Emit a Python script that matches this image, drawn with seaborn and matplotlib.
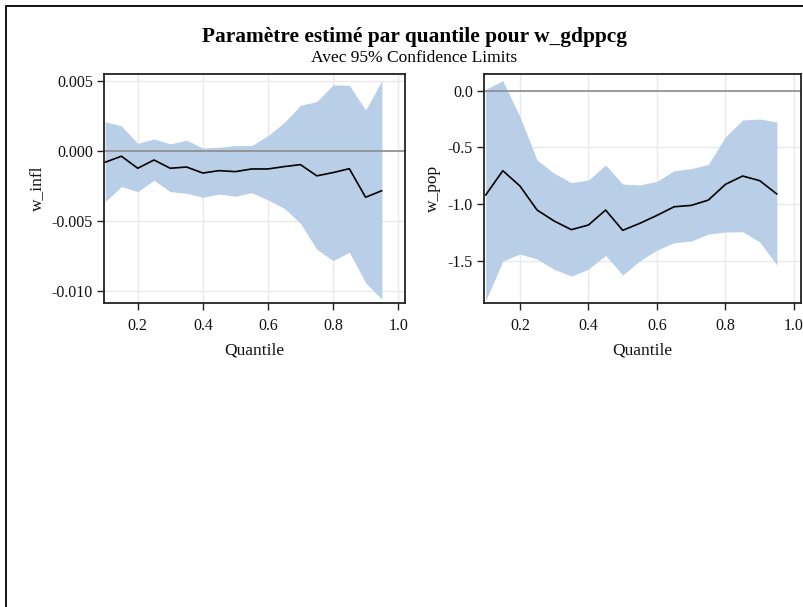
import numpy as np
import pandas as pd
import matplotlib
matplotlib.use("Agg")
import matplotlib.pyplot as plt
import matplotlib.patches as mpatches
from matplotlib.ticker import FormatStrFormatter
import seaborn as sns

quantiles = [0.10, 0.15, 0.20, 0.25, 0.30, 0.35, 0.40, 0.45, 0.50,
             0.55, 0.60, 0.65, 0.70, 0.75, 0.80, 0.85, 0.90, 0.95]

infl_est = [-0.00083, -0.00040, -0.00126, -0.00067, -0.00126, -0.00117, -0.00160, -0.00143, -0.00150,
            -0.00131, -0.00131, -0.00114, -0.00100, -0.00180, -0.00157, -0.00129, -0.00333, -0.00286]
infl_upper = [0.00207, 0.00176, 0.00052, 0.00083, 0.00048, 0.00074, 0.00019, 0.00024, 0.00036,
              0.00036, 0.00107, 0.00200, 0.00324, 0.00350, 0.00469, 0.00467, 0.00290, 0.00500]
infl_lower = [-0.00364, -0.00257, -0.00293, -0.00212, -0.00293, -0.00305, -0.00333, -0.00310, -0.00326,
              -0.00300, -0.00352, -0.00412, -0.00519, -0.00705, -0.00786, -0.00726, -0.00943, -0.01062]

pop_est = [-0.921, -0.706, -0.841, -1.053, -1.150, -1.226, -1.185, -1.053, -1.232,
           -1.170, -1.100, -1.024, -1.012, -0.965, -0.826, -0.753, -0.794, -0.912]
pop_upper = [0.012, 0.088, -0.229, -0.612, -0.729, -0.812, -0.788, -0.656, -0.824,
             -0.832, -0.800, -0.706, -0.688, -0.650, -0.406, -0.259, -0.250, -0.276]
pop_lower = [-1.853, -1.503, -1.441, -1.485, -1.576, -1.635, -1.574, -1.453, -1.626,
             -1.500, -1.406, -1.341, -1.326, -1.265, -1.247, -1.244, -1.335, -1.538]

title = "Paramètre estimé par quantile pour w_gdppcg"
subtitle = "Avec 95% Confidence Limits"

sns.set_theme(style="whitegrid")
plt.rcParams['font.family'] = ['Liberation Serif', 'DejaVu Serif']
plt.rcParams['axes.unicode_minus'] = False

fig = plt.figure(figsize=(8.04, 6.07), dpi=100)
fig.patch.set_facecolor("white")

W, H = 804.0, 607.0
ax1 = fig.add_axes([104 / W, 1 - 302.7 / H, (405.5 - 104) / W, (302.7 - 74.3) / H])
ax2 = fig.add_axes([484 / W, 1 - 302.7 / H, (800.7 - 484) / W, (302.7 - 74.3) / H])

band_color = "#b9cfe8"
panels = [
    (ax1, infl_est, infl_lower, infl_upper, "w_infl", (-0.01086, 0.00545),
     [-0.010, -0.005, 0.000, 0.005], "%.3f", (0.0964, 1.0226)),
    (ax2, pop_est, pop_lower, pop_upper, "w_pop", (-1.87, 0.144),
     [-1.5, -1.0, -0.5, 0.0], "%.1f", (0.0951, 1.0195)),
]

for ax, est, lo, hi, ylab, ylim, yticks, fmt, xlim in panels:
    df = pd.DataFrame({"Quantile": quantiles, ylab: est})
    ax.set_facecolor("white")
    ax.fill_between(quantiles, lo, hi, color=band_color, linewidth=0, zorder=1)
    ax.axhline(0, color="#8c8c8c", linewidth=1.2, zorder=2)
    sns.lineplot(data=df, x="Quantile", y=ylab, ax=ax, color="black",
                 linewidth=1.2, zorder=3)
    ax.set_xlim(*xlim)
    ax.set_ylim(*ylim)
    ax.set_xticks([0.2, 0.4, 0.6, 0.8, 1.0])
    ax.set_yticks(yticks)
    ax.xaxis.set_major_formatter(FormatStrFormatter("%.1f"))
    ax.yaxis.set_major_formatter(FormatStrFormatter(fmt))
    ax.grid(True, color="#e9e9e9", linewidth=1.0, zorder=0)
    ax.set_axisbelow(True)
    for s in ax.spines.values():
        s.set_color("#222222")
        s.set_linewidth(1.3)
        s.set_visible(True)
    ax.tick_params(axis="both", direction="out", length=5, width=1.0,
                   color="#222222", labelsize=11.5, labelcolor="#111111", pad=3,
                   bottom=True, left=True)
    ax.tick_params(axis="x", pad=6)
    ax.set_xlabel("Quantile", fontsize=12.5, color="#111111", labelpad=6)
    ax.set_ylabel(ylab, fontsize=12.5, color="#111111", labelpad=5)

fig.text(414 / W, 1 - 41.7 / H, title, ha="center", va="baseline",
         fontsize=15.4, fontweight="bold", color="black")
fig.text(414 / W, 1 - 61.7 / H, subtitle, ha="center", va="baseline",
         fontsize=12.5, color="black")

border = mpatches.Rectangle((6 / W, -0.1), 1.2, 1 - 6 / H + 0.1,
                            transform=fig.transFigure, fill=False,
                            edgecolor="black", linewidth=1.3, clip_on=False)
fig.patches.append(border)

fig.savefig("out.png", dpi=100, facecolor="white")
